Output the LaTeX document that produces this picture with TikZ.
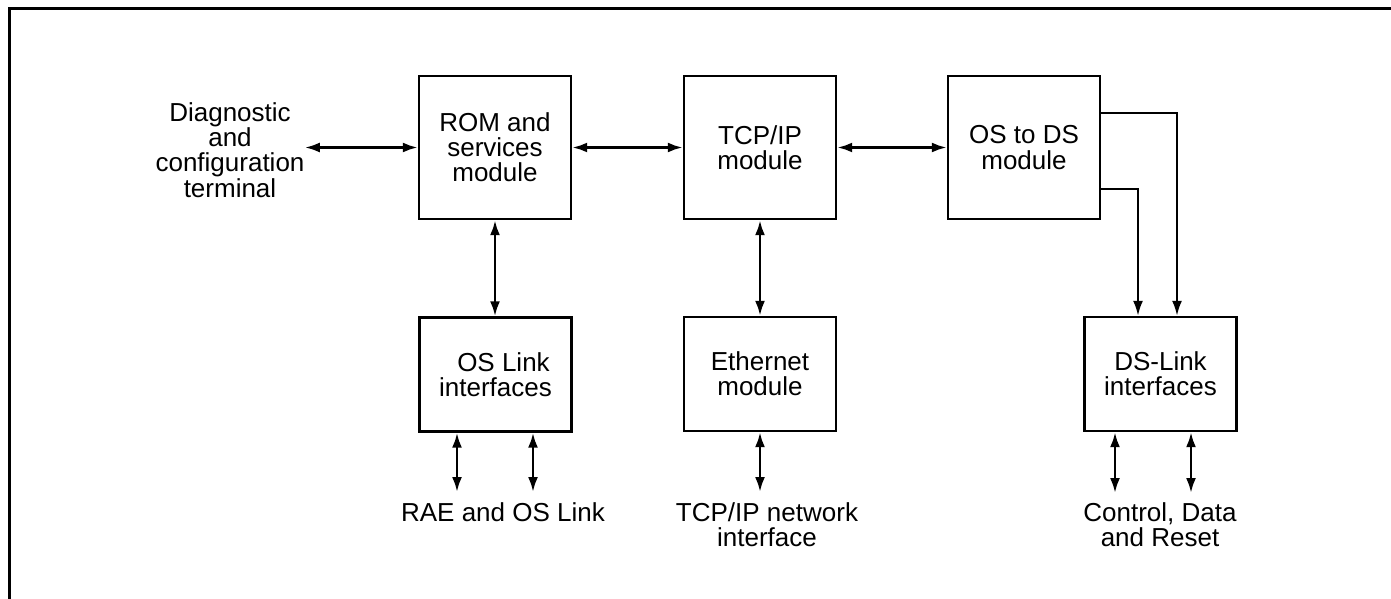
\documentclass[tikz,border=0pt]{standalone}
\usepackage{fontspec}
\setmainfont{Liberation Sans}
\usetikzlibrary{arrows.meta}
\tikzset{>={Latex[length=7.5pt,width=5pt]}}
\tikzset{module/.style = {draw, line width=1.2pt, minimum width=76pt, minimum height=71.5pt,
                          align=center, inner sep=0pt}}
\tikzset{iface/.style = {module, minimum height=57pt}}
\tikzset{lbl/.style = {align=center, inner sep=0pt}}
\tikzset{link/.style = {<->, line width=1.3pt}}

\begin{document}
\begin{tikzpicture}[x=0.5pt, y=-0.5pt, font=\fontsize{13}{12.6}\selectfont]
      \useasboundingbox (0,0) rectangle (1391,599);
      \draw [line width=1.5pt] (9,599) -- (9,9) -- (1391,9);

      % upper row
      \node [module] (rom)  at (495,147.5)  {ROM and\\services\\module};
      \node [module] (tcp)  at (760,147.5)  {TCP/IP\\module};
      \node [module] (osds) at (1024,147.5) {OS to DS\\module};

      % lower row
      \node [iface] (oslink) at (495.5,374.5) {\hspace{8pt}OS Link\\interfaces};
      \node [iface] (eth)    at (760,374)     {Ethernet\\module};
      \node [iface] (dslink) at (1160.5,374)  {DS-Link\\interfaces};

      % outside
      \node [lbl] (diag)   at (230,150)  {Diagnostic\\and\\configuration\\terminal};
      \node [lbl] (rae)    at (503,512)  {RAE and OS Link};
      \node [lbl] (tcpnet) at (767,525)  {TCP/IP network\\interface};
      \node [lbl] (ctrl)   at (1160,525) {Control, Data\\and Reset};

      \coordinate (rae1) at (457,492);
      \coordinate (rae2) at (533,492);
      \coordinate (net)  at (760,492);
      \coordinate (ctl1) at (1115,493);
      \coordinate (ctl2) at (1191,493);
      \coordinate (dsa)  at (1138,189);
      \coordinate (dsb)  at (1177,113);

      \draw [link] (diag.east |- rom.west) -- (rom.west);
      \draw [link] (rom.east) -- (tcp.west);
      \draw [link] (tcp.east) -- (osds.west);
      \draw [link] (rom.south) -- (rom.south |- oslink.north);
      \draw [link] (tcp.south) -- (eth.north);

      \draw [->, line width=1.1pt] (osds.east |- dsb) -| (dsb |- dslink.north);
      \draw [->, line width=1.1pt] (osds.east |- dsa) -| (dsa |- dslink.north);

      \draw [link] (rae1 |- oslink.south) -- (rae1);
      \draw [link] (rae2 |- oslink.south) -- (rae2);
      \draw [link] (eth.south) -- (net);
      \draw [link] (ctl1 |- dslink.south) -- (ctl1);
      \draw [link] (ctl2 |- dslink.south) -- (ctl2);
\end{tikzpicture}
\end{document}
